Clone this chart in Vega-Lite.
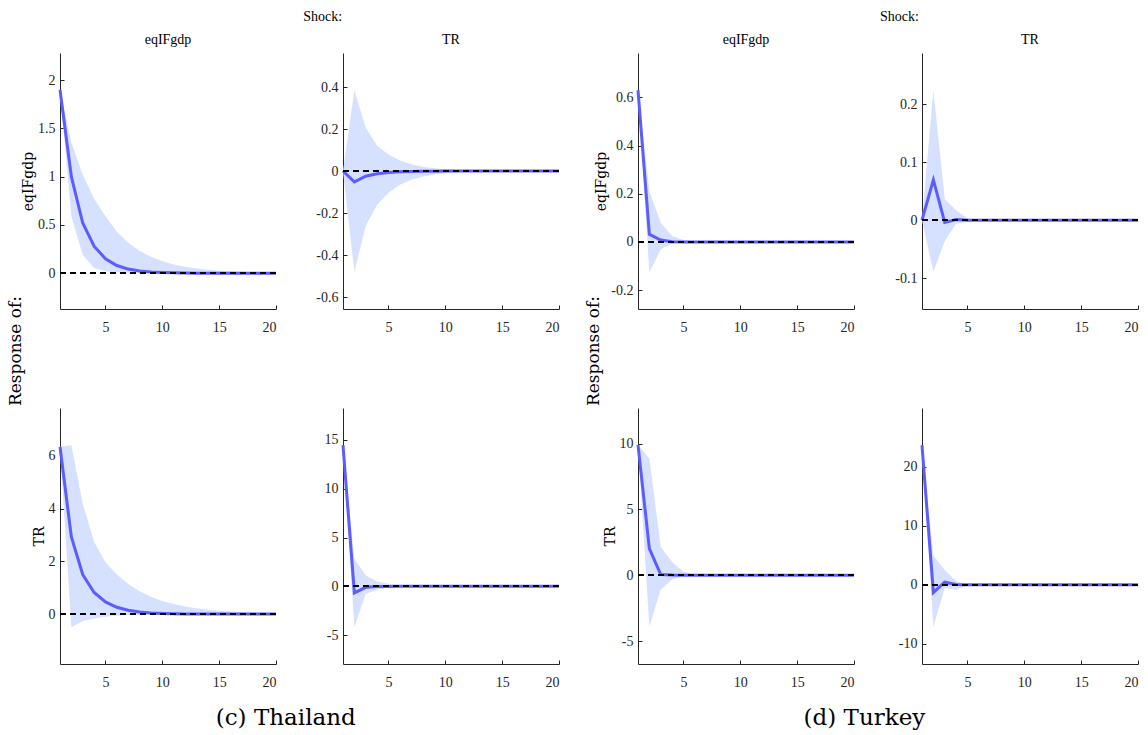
{
"$schema": "https://vega.github.io/schema/vega-lite/v6.json",
"padding": {"left": 6, "top": 10, "right": 5, "bottom": 5},
"background": "white",
"datasets": {
"th_ee": [
{"h":1,"m":1.9,"lo":1.9,"hi":1.9},{"h":2,"m":1.0,"lo":0.59,"hi":1.35},{"h":3,"m":0.52,"lo":0.19,"hi":1.02},{"h":4,"m":0.28,"lo":0.055,"hi":0.77},{"h":5,"m":0.15,"lo":0.02,"hi":0.59},{"h":6,"m":0.08,"lo":0.01,"hi":0.43},{"h":7,"m":0.043,"lo":0.005,"hi":0.315},{"h":8,"m":0.023,"lo":0.003,"hi":0.23},{"h":9,"m":0.012,"lo":0.001,"hi":0.17},{"h":10,"m":0.007,"lo":0.0005,"hi":0.124},{"h":11,"m":0.004,"lo":0,"hi":0.09},{"h":12,"m":0.002,"lo":0,"hi":0.067},{"h":13,"m":0.001,"lo":0,"hi":0.05},{"h":14,"m":0.0006,"lo":0,"hi":0.036},{"h":15,"m":0.0003,"lo":0,"hi":0.027},{"h":16,"m":0.0002,"lo":0,"hi":0.02},{"h":17,"m":0.0001,"lo":0,"hi":0.015},{"h":18,"m":0,"lo":0,"hi":0.011},{"h":19,"m":0,"lo":0,"hi":0.008},{"h":20,"m":0,"lo":0,"hi":0.006}
],
"th_te": [
{"h":1,"m":0,"lo":0,"hi":0},{"h":2,"m":-0.052,"lo":-0.48,"hi":0.384},{"h":3,"m":-0.025,"lo":-0.26,"hi":0.206},{"h":4,"m":-0.013,"lo":-0.16,"hi":0.12},{"h":5,"m":-0.007,"lo":-0.103,"hi":0.079},{"h":6,"m":-0.004,"lo":-0.065,"hi":0.05},{"h":7,"m":-0.002,"lo":-0.042,"hi":0.032},{"h":8,"m":-0.001,"lo":-0.027,"hi":0.02},{"h":9,"m":-0.0005,"lo":-0.017,"hi":0.013},{"h":10,"m":0,"lo":-0.011,"hi":0.008},{"h":11,"m":0,"lo":-0.007,"hi":0.005},{"h":12,"m":0,"lo":-0.004,"hi":0.003},{"h":13,"m":0,"lo":-0.003,"hi":0.002},{"h":14,"m":0,"lo":-0.002,"hi":0.001},{"h":15,"m":0,"lo":-0.001,"hi":0.001},{"h":16,"m":0,"lo":0,"hi":0},{"h":17,"m":0,"lo":0,"hi":0},{"h":18,"m":0,"lo":0,"hi":0},{"h":19,"m":0,"lo":0,"hi":0},{"h":20,"m":0,"lo":0,"hi":0}
],
"th_et": [
{"h":1,"m":6.34,"lo":6.34,"hi":6.34},{"h":2,"m":2.92,"lo":-0.5,"hi":6.4},{"h":3,"m":1.5,"lo":-0.26,"hi":4.18},{"h":4,"m":0.82,"lo":-0.17,"hi":2.73},{"h":5,"m":0.46,"lo":-0.1,"hi":1.97},{"h":6,"m":0.26,"lo":-0.06,"hi":1.5},{"h":7,"m":0.15,"lo":-0.035,"hi":1.14},{"h":8,"m":0.08,"lo":-0.02,"hi":0.87},{"h":9,"m":0.045,"lo":-0.012,"hi":0.66},{"h":10,"m":0.025,"lo":-0.007,"hi":0.5},{"h":11,"m":0.014,"lo":-0.004,"hi":0.38},{"h":12,"m":0.008,"lo":-0.002,"hi":0.29},{"h":13,"m":0.004,"lo":-0.001,"hi":0.22},{"h":14,"m":0.002,"lo":0,"hi":0.17},{"h":15,"m":0.001,"lo":0,"hi":0.13},{"h":16,"m":0,"lo":0,"hi":0.1},{"h":17,"m":0,"lo":0,"hi":0.075},{"h":18,"m":0,"lo":0,"hi":0.057},{"h":19,"m":0,"lo":0,"hi":0.044},{"h":20,"m":0,"lo":0,"hi":0.033}
],
"th_tt": [
{"h":1,"m":14.46,"lo":14.46,"hi":14.46},{"h":2,"m":-0.68,"lo":-4.2,"hi":2.83},{"h":3,"m":-0.1,"lo":-0.75,"hi":1.1},{"h":4,"m":-0.03,"lo":-0.35,"hi":0.5},{"h":5,"m":-0.01,"lo":-0.15,"hi":0.25},{"h":6,"m":0,"lo":-0.07,"hi":0.12},{"h":7,"m":0,"lo":-0.035,"hi":0.06},{"h":8,"m":0,"lo":-0.015,"hi":0.03},{"h":9,"m":0,"lo":-0.007,"hi":0.015},{"h":10,"m":0,"lo":0,"hi":0.007},{"h":11,"m":0,"lo":0,"hi":0},{"h":12,"m":0,"lo":0,"hi":0},{"h":13,"m":0,"lo":0,"hi":0},{"h":14,"m":0,"lo":0,"hi":0},{"h":15,"m":0,"lo":0,"hi":0},{"h":16,"m":0,"lo":0,"hi":0},{"h":17,"m":0,"lo":0,"hi":0},{"h":18,"m":0,"lo":0,"hi":0},{"h":19,"m":0,"lo":0,"hi":0},{"h":20,"m":0,"lo":0,"hi":0}
],
"tu_ee": [
{"h":1,"m":0.63,"lo":0.63,"hi":0.63},{"h":2,"m":0.032,"lo":-0.127,"hi":0.21},{"h":3,"m":0.008,"lo":-0.03,"hi":0.08},{"h":4,"m":0.001,"lo":-0.006,"hi":0.025},{"h":5,"m":0,"lo":-0.002,"hi":0.008},{"h":6,"m":0,"lo":0,"hi":0.003},{"h":7,"m":0,"lo":0,"hi":0.001},{"h":8,"m":0,"lo":0,"hi":0},{"h":9,"m":0,"lo":0,"hi":0},{"h":10,"m":0,"lo":0,"hi":0},{"h":11,"m":0,"lo":0,"hi":0},{"h":12,"m":0,"lo":0,"hi":0},{"h":13,"m":0,"lo":0,"hi":0},{"h":14,"m":0,"lo":0,"hi":0},{"h":15,"m":0,"lo":0,"hi":0},{"h":16,"m":0,"lo":0,"hi":0},{"h":17,"m":0,"lo":0,"hi":0},{"h":18,"m":0,"lo":0,"hi":0},{"h":19,"m":0,"lo":0,"hi":0},{"h":20,"m":0,"lo":0,"hi":0}
],
"tu_te": [
{"h":1,"m":0,"lo":0,"hi":0},{"h":2,"m":0.0695,"lo":-0.089,"hi":0.224},{"h":3,"m":-0.004,"lo":-0.036,"hi":0.036},{"h":4,"m":0.001,"lo":-0.006,"hi":0.017},{"h":5,"m":0,"lo":-0.003,"hi":0.003},{"h":6,"m":0,"lo":-0.001,"hi":0.001},{"h":7,"m":0,"lo":0,"hi":0},{"h":8,"m":0,"lo":0,"hi":0},{"h":9,"m":0,"lo":0,"hi":0},{"h":10,"m":0,"lo":0,"hi":0},{"h":11,"m":0,"lo":0,"hi":0},{"h":12,"m":0,"lo":0,"hi":0},{"h":13,"m":0,"lo":0,"hi":0},{"h":14,"m":0,"lo":0,"hi":0},{"h":15,"m":0,"lo":0,"hi":0},{"h":16,"m":0,"lo":0,"hi":0},{"h":17,"m":0,"lo":0,"hi":0},{"h":18,"m":0,"lo":0,"hi":0},{"h":19,"m":0,"lo":0,"hi":0},{"h":20,"m":0,"lo":0,"hi":0}
],
"tu_et": [
{"h":1,"m":9.9,"lo":9.9,"hi":9.9},{"h":2,"m":2.02,"lo":-3.9,"hi":8.84},{"h":3,"m":0.05,"lo":-1.08,"hi":2.15},{"h":4,"m":0.01,"lo":-0.33,"hi":1.0},{"h":5,"m":0,"lo":-0.08,"hi":0.25},{"h":6,"m":0,"lo":-0.03,"hi":0.08},{"h":7,"m":0,"lo":-0.01,"hi":0.03},{"h":8,"m":0,"lo":0,"hi":0.01},{"h":9,"m":0,"lo":0,"hi":0},{"h":10,"m":0,"lo":0,"hi":0},{"h":11,"m":0,"lo":0,"hi":0},{"h":12,"m":0,"lo":0,"hi":0},{"h":13,"m":0,"lo":0,"hi":0},{"h":14,"m":0,"lo":0,"hi":0},{"h":15,"m":0,"lo":0,"hi":0},{"h":16,"m":0,"lo":0,"hi":0},{"h":17,"m":0,"lo":0,"hi":0},{"h":18,"m":0,"lo":0,"hi":0},{"h":19,"m":0,"lo":0,"hi":0},{"h":20,"m":0,"lo":0,"hi":0}
],
"tu_tt": [
{"h":1,"m":23.6,"lo":23.6,"hi":23.6},{"h":2,"m":-1.3,"lo":-7.15,"hi":4.94},{"h":3,"m":0.44,"lo":-0.5,"hi":2.5},{"h":4,"m":0.05,"lo":-0.84,"hi":0.6},{"h":5,"m":0.01,"lo":-0.1,"hi":0.1},{"h":6,"m":0,"lo":-0.02,"hi":0.03},{"h":7,"m":0,"lo":0,"hi":0},{"h":8,"m":0,"lo":0,"hi":0},{"h":9,"m":0,"lo":0,"hi":0},{"h":10,"m":0,"lo":0,"hi":0},{"h":11,"m":0,"lo":0,"hi":0},{"h":12,"m":0,"lo":0,"hi":0},{"h":13,"m":0,"lo":0,"hi":0},{"h":14,"m":0,"lo":0,"hi":0},{"h":15,"m":0,"lo":0,"hi":0},{"h":16,"m":0,"lo":0,"hi":0},{"h":17,"m":0,"lo":0,"hi":0},{"h":18,"m":0,"lo":0,"hi":0},{"h":19,"m":0,"lo":0,"hi":0},{"h":20,"m":0,"lo":0,"hi":0}
]
},
"spacing": 19,
"hconcat": [
{"title": {"text": "(c) Thailand", "orient": "bottom", "anchor": "middle", "font": "DejaVu Serif", "fontSize": 23, "fontWeight": "normal", "offset": 18},
 "vconcat": [
 {"title": {"text": "Shock:", "anchor": "middle", "dx": 37, "offset": 9},
  "vconcat": [
  {"title": {"text": "Response of:", "orient": "left", "anchor": "middle", "dx": 10, "font": "DejaVu Serif", "fontSize": 17, "fontWeight": "normal", "offset": -3},
   "columns": 2, "bounds": "flush", "spacing": {"column": 67, "row": 99},
   "concat": [
   {"width": 216, "height": 256, "data": {"name": "th_ee"}, "title": "eqIFgdp",
    "layer": [
     {"mark": {"type": "area", "color": "#d6e0ff", "opacity": 1}, "encoding": {"x": {"field": "h", "type": "quantitative", "scale": {"domain": [1, 20], "nice": false, "zero": false}, "axis": {"values": [5, 10, 15, 20]}, "title": null}, "y": {"field": "lo", "type": "quantitative", "title": "eqIFgdp", "scale": {"domain": [-0.37, 2.28], "nice": false, "zero": false}, "axis": {"values": [0, 0.5, 1, 1.5, 2]}}, "y2": {"field": "hi"}}},
     {"mark": {"type": "line", "color": "#5c5cff", "strokeWidth": 3}, "encoding": {"x": {"field": "h", "type": "quantitative", "title": null}, "y": {"field": "m", "type": "quantitative", "title": "eqIFgdp"}}},
     {"mark": {"type": "rule", "color": "#000000", "strokeDash": [6, 4], "strokeWidth": 1.3}, "encoding": {"y": {"datum": 0, "type": "quantitative", "title": "eqIFgdp"}}}
    ]},
   {"width": 216, "height": 256, "data": {"name": "th_te"}, "title": "TR",
    "layer": [
     {"mark": {"type": "area", "color": "#d6e0ff", "opacity": 1}, "encoding": {"x": {"field": "h", "type": "quantitative", "scale": {"domain": [1, 20], "nice": false, "zero": false}, "axis": {"values": [5, 10, 15, 20]}, "title": null}, "y": {"field": "lo", "type": "quantitative", "title": null, "scale": {"domain": [-0.657, 0.562], "nice": false, "zero": false}, "axis": {"values": [-0.6, -0.4, -0.2, 0, 0.2, 0.4]}}, "y2": {"field": "hi"}}},
     {"mark": {"type": "line", "color": "#5c5cff", "strokeWidth": 3}, "encoding": {"x": {"field": "h", "type": "quantitative", "title": null}, "y": {"field": "m", "type": "quantitative", "title": null}}},
     {"mark": {"type": "rule", "color": "#000000", "strokeDash": [6, 4], "strokeWidth": 1.3}, "encoding": {"y": {"datum": 0, "type": "quantitative", "title": null}}}
    ]},
   {"width": 216, "height": 256, "data": {"name": "th_et"},
    "layer": [
     {"mark": {"type": "area", "color": "#d6e0ff", "opacity": 1}, "encoding": {"x": {"field": "h", "type": "quantitative", "scale": {"domain": [1, 20], "nice": false, "zero": false}, "axis": {"values": [5, 10, 15, 20]}, "title": null}, "y": {"field": "lo", "type": "quantitative", "title": "TR", "scale": {"domain": [-1.89, 7.81], "nice": false, "zero": false}, "axis": {"values": [0, 2, 4, 6]}}, "y2": {"field": "hi"}}},
     {"mark": {"type": "line", "color": "#5c5cff", "strokeWidth": 3}, "encoding": {"x": {"field": "h", "type": "quantitative", "title": null}, "y": {"field": "m", "type": "quantitative", "title": "TR"}}},
     {"mark": {"type": "rule", "color": "#000000", "strokeDash": [6, 4], "strokeWidth": 1.3}, "encoding": {"y": {"datum": 0, "type": "quantitative", "title": "TR"}}}
    ]},
   {"width": 216, "height": 256, "data": {"name": "th_tt"},
    "layer": [
     {"mark": {"type": "area", "color": "#d6e0ff", "opacity": 1}, "encoding": {"x": {"field": "h", "type": "quantitative", "scale": {"domain": [1, 20], "nice": false, "zero": false}, "axis": {"values": [5, 10, 15, 20]}, "title": null}, "y": {"field": "lo", "type": "quantitative", "title": null, "scale": {"domain": [-7.96, 18.27], "nice": false, "zero": false}, "axis": {"values": [-5, 0, 5, 10, 15]}}, "y2": {"field": "hi"}}},
     {"mark": {"type": "line", "color": "#5c5cff", "strokeWidth": 3}, "encoding": {"x": {"field": "h", "type": "quantitative", "title": null}, "y": {"field": "m", "type": "quantitative", "title": null}}},
     {"mark": {"type": "rule", "color": "#000000", "strokeDash": [6, 4], "strokeWidth": 1.3}, "encoding": {"y": {"datum": 0, "type": "quantitative", "title": null}}}
    ]}
   ]}
  ]}
 ]},
{"title": {"text": "(d) Turkey", "orient": "bottom", "anchor": "middle", "font": "DejaVu Serif", "fontSize": 23, "fontWeight": "normal", "offset": 18},
 "vconcat": [
 {"title": {"text": "Shock:", "anchor": "middle", "dx": 35, "offset": 9},
  "vconcat": [
  {"title": {"text": "Response of:", "orient": "left", "anchor": "middle", "dx": 10, "font": "DejaVu Serif", "fontSize": 17, "fontWeight": "normal", "offset": -8},
   "columns": 2, "bounds": "flush", "spacing": {"column": 68, "row": 99},
   "concat": [
   {"width": 216, "height": 256, "data": {"name": "tu_ee"}, "title": "eqIFgdp",
    "layer": [
     {"mark": {"type": "area", "color": "#d6e0ff", "opacity": 1}, "encoding": {"x": {"field": "h", "type": "quantitative", "scale": {"domain": [1, 20], "nice": false, "zero": false}, "axis": {"values": [5, 10, 15, 20]}, "title": null}, "y": {"field": "lo", "type": "quantitative", "title": "eqIFgdp", "scale": {"domain": [-0.278, 0.784], "nice": false, "zero": false}, "axis": {"values": [-0.2, 0, 0.2, 0.4, 0.6]}}, "y2": {"field": "hi"}}},
     {"mark": {"type": "line", "color": "#5c5cff", "strokeWidth": 3}, "encoding": {"x": {"field": "h", "type": "quantitative", "title": null}, "y": {"field": "m", "type": "quantitative", "title": "eqIFgdp"}}},
     {"mark": {"type": "rule", "color": "#000000", "strokeDash": [6, 4], "strokeWidth": 1.3}, "encoding": {"y": {"datum": 0, "type": "quantitative", "title": "eqIFgdp"}}}
    ]},
   {"width": 216, "height": 256, "data": {"name": "tu_te"}, "title": "TR",
    "layer": [
     {"mark": {"type": "area", "color": "#d6e0ff", "opacity": 1}, "encoding": {"x": {"field": "h", "type": "quantitative", "scale": {"domain": [1, 20], "nice": false, "zero": false}, "axis": {"values": [5, 10, 15, 20]}, "title": null}, "y": {"field": "lo", "type": "quantitative", "title": null, "scale": {"domain": [-0.153, 0.288], "nice": false, "zero": false}, "axis": {"values": [-0.1, 0, 0.1, 0.2]}}, "y2": {"field": "hi"}}},
     {"mark": {"type": "line", "color": "#5c5cff", "strokeWidth": 3}, "encoding": {"x": {"field": "h", "type": "quantitative", "title": null}, "y": {"field": "m", "type": "quantitative", "title": null}}},
     {"mark": {"type": "rule", "color": "#000000", "strokeDash": [6, 4], "strokeWidth": 1.3}, "encoding": {"y": {"datum": 0, "type": "quantitative", "title": null}}}
    ]},
   {"width": 216, "height": 256, "data": {"name": "tu_et"},
    "layer": [
     {"mark": {"type": "area", "color": "#d6e0ff", "opacity": 1}, "encoding": {"x": {"field": "h", "type": "quantitative", "scale": {"domain": [1, 20], "nice": false, "zero": false}, "axis": {"values": [5, 10, 15, 20]}, "title": null}, "y": {"field": "lo", "type": "quantitative", "title": "TR", "scale": {"domain": [-6.74, 12.7], "nice": false, "zero": false}, "axis": {"values": [-5, 0, 5, 10]}}, "y2": {"field": "hi"}}},
     {"mark": {"type": "line", "color": "#5c5cff", "strokeWidth": 3}, "encoding": {"x": {"field": "h", "type": "quantitative", "title": null}, "y": {"field": "m", "type": "quantitative", "title": "TR"}}},
     {"mark": {"type": "rule", "color": "#000000", "strokeDash": [6, 4], "strokeWidth": 1.3}, "encoding": {"y": {"datum": 0, "type": "quantitative", "title": "TR"}}}
    ]},
   {"width": 216, "height": 256, "data": {"name": "tu_tt"},
    "layer": [
     {"mark": {"type": "area", "color": "#d6e0ff", "opacity": 1}, "encoding": {"x": {"field": "h", "type": "quantitative", "scale": {"domain": [1, 20], "nice": false, "zero": false}, "axis": {"values": [5, 10, 15, 20]}, "title": null}, "y": {"field": "lo", "type": "quantitative", "title": null, "scale": {"domain": [-13.4, 29.9], "nice": false, "zero": false}, "axis": {"values": [-10, -5, 0, 5, 10, 15, 20, 25]}}, "y2": {"field": "hi"}}},
     {"mark": {"type": "line", "color": "#5c5cff", "strokeWidth": 3}, "encoding": {"x": {"field": "h", "type": "quantitative", "title": null}, "y": {"field": "m", "type": "quantitative", "title": null}}},
     {"mark": {"type": "rule", "color": "#000000", "strokeDash": [6, 4], "strokeWidth": 1.3}, "encoding": {"y": {"datum": 0, "type": "quantitative", "title": null}}}
    ]}
   ]}
  ]}
 ]}
],
"config": {
 "view": {"stroke": null},
 "axis": {"grid": false, "domainColor": "#262626", "domainWidth": 1, "tickColor": "#262626", "tickSize": -4, "labelColor": "#262626", "labelFont": "Liberation Serif", "labelFontSize": 14, "titleFont": "DejaVu Serif", "titleFontSize": 14, "titleFontWeight": "normal", "titleColor": "#000000", "titlePadding": 2, "labelExpr": "datum.value < 0 ? '-' + format(-datum.value, '~g') : format(datum.value, '~g')"},
 "axisX": {"labelPadding": 15},
 "axisY": {"labelPadding": 9},
 "title": {"font": "Liberation Serif", "fontSize": 14, "fontWeight": "normal", "color": "#000000", "offset": 6}
}
}
